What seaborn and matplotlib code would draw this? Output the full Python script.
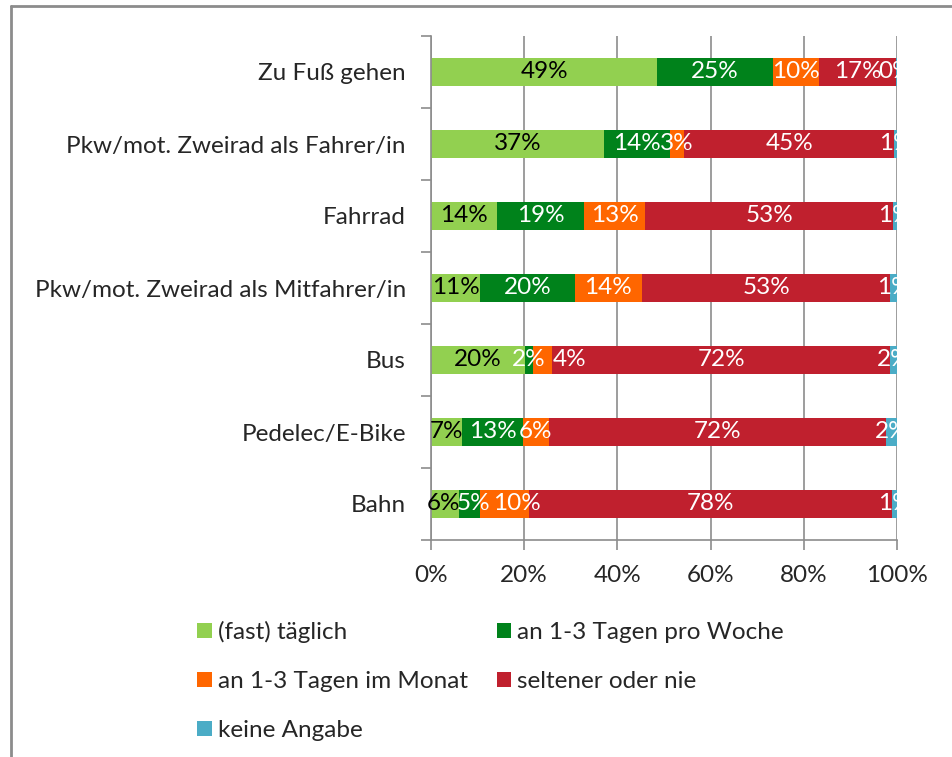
import matplotlib.pyplot as plt
import numpy as np
import seaborn as sns
from matplotlib.lines import Line2D
from matplotlib.patches import Patch

# Modes of transport, top to bottom
modes = [
    "Zu Fuß gehen",
    "Pkw/mot. Zweirad als Fahrer/in",
    "Fahrrad",
    "Pkw/mot. Zweirad als Mitfahrer/in",
    "Bus",
    "Pedelec/E-Bike",
    "Bahn",
]
freq_labels = [
    "(fast) täglich",
    "an 1-3 Tagen pro Woche",
    "an 1-3 Tagen im Monat",
    "seltener oder nie",
    "keine Angabe",
]
daily = [48.6, 37.1, 14.2, 10.6, 20.2, 6.7, 6.0]
weekly = [24.7, 14.2, 18.7, 20.2, 1.7, 13.0, 4.6]
monthly = [9.9, 3.0, 13.1, 14.4, 4.1, 5.6, 10.4]
rarely = [16.6, 45.1, 53.2, 53.4, 72.5, 72.3, 77.9]
no_answer = [0.2, 0.6, 0.8, 1.4, 1.5, 2.4, 1.1]

colors = ["#92d050", "#00821b", "#ff6600", "#c0202e", "#4bacc6"]
text_colors = ["black", "white", "white", "white", "white"]
# label nudges (row, series) -> shift in %, like the spread-out labels of the original
label_shift = {(0, 4): -0.3, (4, 2): 5.8, (6, 0): -0.4, (6, 1): 0.9, (6, 2): 2.7}

sns.set_style("white")
plt.rcParams["font.family"] = ["Lato", "DejaVu Sans"]
fs = 17.5

series = np.array([daily, weekly, monthly, rarely, no_answer])
cum = np.cumsum(series, axis=0)

fig = plt.figure(figsize=(9.53, 7.57), dpi=100)
ax = fig.add_axes([431 / 953, 1 - 540 / 757, 466 / 953, 504 / 757])

# stacked bars: draw cumulative totals from the largest down
for k in range(len(series) - 1, -1, -1):
    sns.barplot(x=cum[k], y=modes, color=colors[k], width=0.4,
                orient="h", ax=ax, linewidth=0, saturation=1)

for k in range(len(series)):
    left = cum[k] - series[k]
    for i, v in enumerate(series[k]):
        xpos = left[i] + v / 2 + label_shift.get((i, k), 0)
        ax.text(xpos, i, f"{v:.0f}%", ha="center", va="center",
                color=text_colors[k], fontsize=fs)

ax.set_xlim(0, 100)
ax.set_ylim(len(modes) - 0.5, -0.5)
ax.set_xticks(np.arange(0, 101, 20))
ax.set_xticklabels([f"{t}%" for t in range(0, 101, 20)], fontsize=fs)
ax.set_yticks(np.arange(-0.5, len(modes), 1), minor=True)
ax.tick_params(axis="y", which="major", length=0, pad=18, labelsize=fs)
ax.tick_params(axis="y", which="minor", length=7, color="#8c8c8c", width=1.2, left=True)
ax.tick_params(axis="x", length=7, color="#8c8c8c", width=1.2, bottom=True, pad=11)
ax.set_xlabel("")
ax.set_ylabel("")
ax.grid(axis="x", color="#8c8c8c", linewidth=1.2)
ax.set_axisbelow(True)
for side in ["top", "right"]:
    ax.spines[side].set_visible(False)
for side in ["left", "bottom"]:
    ax.spines[side].set_color("#8c8c8c")
    ax.spines[side].set_linewidth(1.2)

# legend filled row by row, as in the original
order = [0, 2, 4, 1, 3]
handles = [Patch(facecolor=colors[i], edgecolor="none") for i in order]
fig.legend(handles, [freq_labels[i] for i in order], ncol=2, loc="upper left",
           bbox_to_anchor=(197 / 953, 1 - 621 / 757), frameon=False,
           borderpad=0, borderaxespad=0,
           fontsize=fs, handlelength=0.6, handleheight=0.6,
           handletextpad=0.25, columnspacing=1.2, labelspacing=1.15)

# outer chart frame
fig.add_artist(Line2D([11 / 953, 1], [1 - 6 / 757, 1 - 6 / 757],
                      transform=fig.transFigure, color="#8c8c8c", linewidth=2))
fig.add_artist(Line2D([11 / 953, 11 / 953], [0, 1 - 6 / 757],
                      transform=fig.transFigure, color="#8c8c8c", linewidth=2))

fig.savefig("out.png", dpi=100)
